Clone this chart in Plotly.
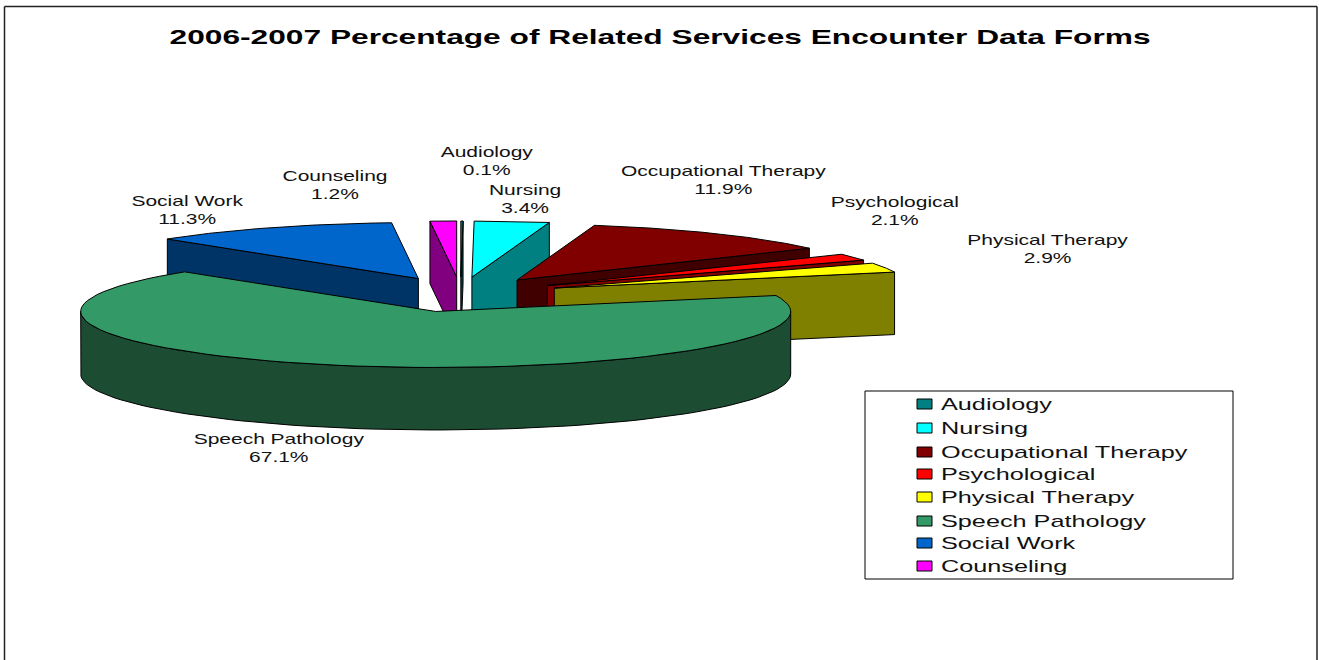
import numpy as np
import plotly.graph_objects as go

# chart data, in legend order
categories = ['Audiology', 'Nursing', 'Occupational Therapy', 'Psychological',
              'Physical Therapy', 'Speech Pathology', 'Social Work', 'Counseling']
percent = [0.1, 3.4, 11.9, 2.1, 2.9, 67.1, 11.3, 1.2]
title_text = '2006-2007 Percentage of Related Services Encounter Data Forms'

top_colors = ['#008080', '#00FFFF', '#800000', '#FF0000', '#FFFF00', '#339966', '#0066CC', '#FF00FF']
wall_colors = ['#004040', '#008080', '#400000', '#800000', '#808000', '#1C4D33', '#003366', '#800080']

# label centres in page pixels
label_x = [487, 525, 723, 895, 1047, 279, 187, 335]
label_y = [161, 199, 180, 211, 249, 448, 210, 185]
legend_y = [404, 428, 452, 474, 497, 521, 543, 566]

# pie geometry in page pixels
W, H = 1319, 660
CX, CY = 460.5, 294.5
RX, RY = 355, 56
EX, EY = 101, 17.5
DEPTH = 62.5

fig = go.Figure()


def add_poly(xs, ys, color):
    fig.add_trace(go.Scatter(x=list(xs), y=list(ys), mode='lines', fill='toself', fillcolor=color,
                             line=dict(color='black', width=1), hoverinfo='skip', showlegend=False))


def rim(ax, ay, a0, a1):
    t = np.radians(np.linspace(a0, a1, 80))
    return ax + RX * np.sin(t), ay - RY * np.cos(t)


# slice angles, clockwise from 12 o'clock
total = sum(percent)
edges = np.cumsum([0] + percent) / total * 360
draw_order = [0, 1, 2, 3, 4, 6, 7, 5]  # back to front

for i in draw_order:
    a0, a1 = edges[i], edges[i + 1]
    mid = np.radians((a0 + a1) / 2)
    ax = CX + EX * np.sin(mid)
    ay = CY - EY * np.cos(mid)

    # radial walls, only the ones facing the viewer
    for ang, visible in ((a0, a0 > 180), (a1, a1 < 180)):
        if visible:
            px_, py_ = rim(ax, ay, ang, ang)
            add_poly([ax, px_[0], px_[0], ax, ax], [ay, py_[0], py_[0] + DEPTH, ay + DEPTH, ay], wall_colors[i])

    # outer wall on the front half
    f0, f1 = max(a0, 90), min(a1, 270)
    if f1 > f0:
        rx_, ry_ = rim(ax, ay, f0, f1)
        add_poly(np.r_[rx_, rx_[::-1], rx_[0]], np.r_[ry_, ry_[::-1] + DEPTH, ry_[0]], wall_colors[i])

    # top face
    tx, ty = rim(ax, ay, a0, a1)
    add_poly(np.r_[ax, tx, ax], np.r_[ay, ty, ay], top_colors[i])

fig.add_annotation(x=660, y=36, text=f'<b>{title_text}</b>', showarrow=False,
                   font=dict(family='Liberation Sans', size=21, color='black'))

for name, val, lx, ly in zip(categories, percent, label_x, label_y):
    fig.add_annotation(x=lx, y=ly, text=f'{name}<br>{val:.1f}%', showarrow=False,
                       font=dict(family='Liberation Sans', size=14, color='#111111'))

# legend box
shapes = [dict(type='rect', x0=865, y0=391, x1=1233, y1=579, line=dict(color='black', width=1), fillcolor='white', layer='below')]
for c, ly in zip(top_colors, legend_y):
    shapes.append(dict(type='rect', x0=917, x1=932, y0=ly - 5, y1=ly + 5, line=dict(color='black', width=1), fillcolor=c))
fig.add_trace(go.Scatter(x=[941] * len(categories), y=[ly + 2 for ly in legend_y], mode='text', text=categories, textposition='middle right',
                         textfont=dict(family='Liberation Sans', size=17, color='#111111'), hoverinfo='skip', showlegend=False))

# chart frame, the bottom edge is cut off
for x0, y0, x1, y1 in ((4.5, 6.5, 4.5, 660), (4.5, 6.5, 1317, 6.5), (1317, 6.5, 1317, 660)):
    shapes.append(dict(type='line', x0=x0, y0=y0, x1=x1, y1=y1, line=dict(color='#222222', width=1.5)))

fig.update_layout(width=W, height=H, margin=dict(l=0, r=0, t=0, b=0), paper_bgcolor='white', plot_bgcolor='white',
                  showlegend=False, shapes=shapes,
                  xaxis=dict(range=[0, W], visible=False, fixedrange=True),
                  yaxis=dict(range=[H, 0], visible=False, fixedrange=True))

# the original text is stretched sideways
post_script = """
document.body.style.margin = '0';
var stretch = {'14': 1.5, '17': 1.485, '21': 1.51};
document.querySelectorAll('.annotation-text, .textpoint text').forEach(function (t) {
    t.style.transformBox = 'fill-box';
    t.style.transformOrigin = t.matches('.annotation-text') ? 'center' : 'left center';
    t.style.transform = 'scaleX(' + stretch[parseFloat(t.style.fontSize)] + ')';
});
"""
fig.write_html("out.html", post_script=post_script, config=dict(displayModeBar=False))
